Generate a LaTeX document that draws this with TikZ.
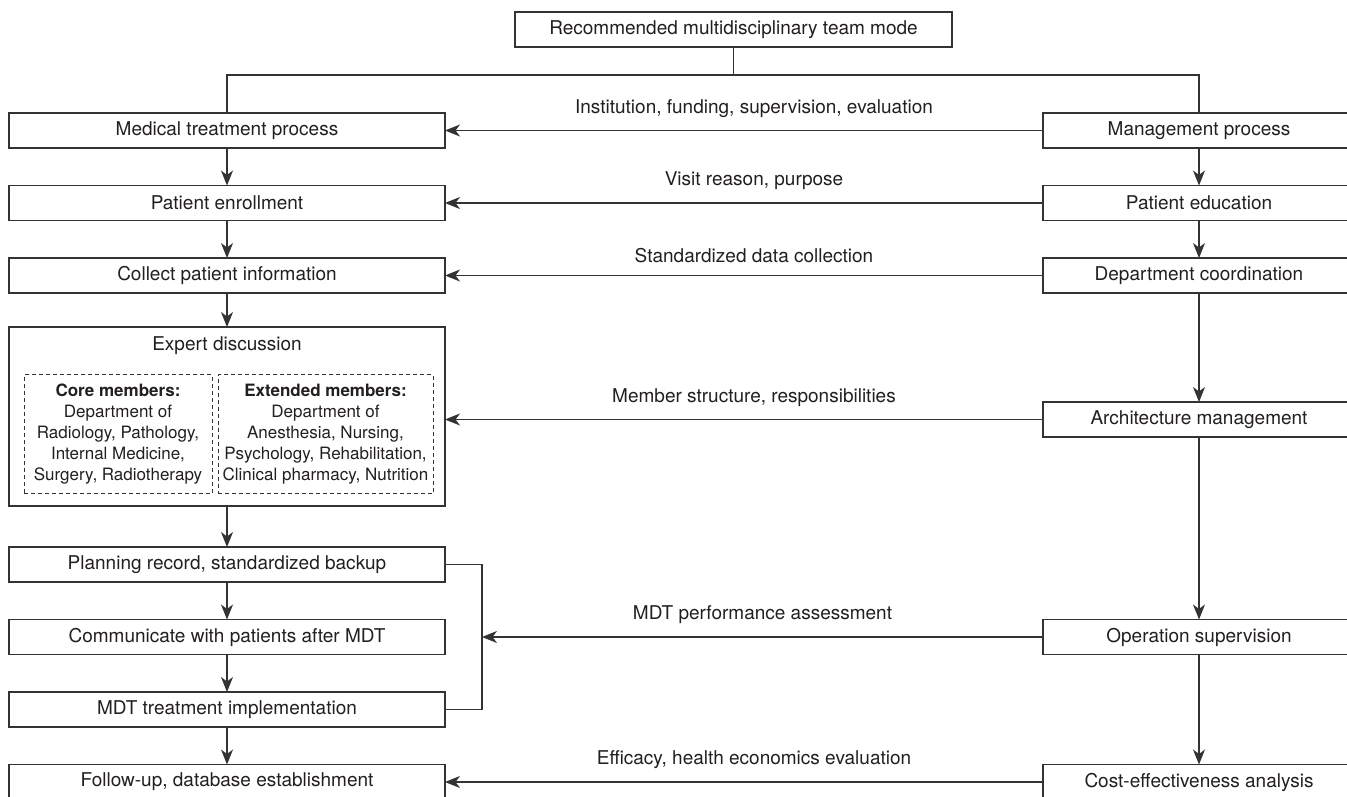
\documentclass[tikz,border=0pt]{standalone}
\usepackage{fontspec}
\setmainfont{TeX Gyre Heros}
\usepackage{xcolor}
\usepackage{tikz}
\usetikzlibrary{positioning,arrows.meta,calc}
\definecolor{LineGray}{HTML}{333333}
\definecolor{InkDark}{HTML}{231F20}
\newcommand{\boxfont}{\fontsize{19}{22}\selectfont}
\newcommand{\memberfont}{\fontsize{17}{21}\selectfont}

\begin{document}
\begin{tikzpicture}[x=1pt,y=1pt,
    stage/.style={draw=LineGray, line width=1.3pt, fill=white, outer sep=0pt,
                  minimum width=436pt, minimum height=35pt, inner sep=0pt,
                  text=InkDark, font=\boxfont},
    mgmtbox/.style={stage, minimum width=312pt},
    members/.style={draw=LineGray, line width=0.9pt, dash pattern=on 4pt off 3pt,
                    minimum height=119pt, inner sep=0pt, align=center,
                    text=InkDark, font=\memberfont},
    link/.style={draw=LineGray, line width=1.3pt},
    arr/.style={link, -{Stealth[length=15pt,width=12pt,inset=4.5pt]}},
    flowlabel/.style={midway, above=9pt, xshift=10pt, text=InkDark, font=\boxfont},
    node distance=37.5pt]
  \useasboundingbox (0,0) rectangle (1347,-797);

  % top of the tree
  \node[stage, minimum width=437pt] (mode) at (733.5,-29.5) {Recommended multidisciplinary team mode};
  \coordinate (split) at (733.5,-75);

  % medical treatment column
  \node[stage] (med) at (227,-130.5) {Medical treatment process};
  \node[stage, below=of med] (enrol) {Patient enrollment};
  \node[stage, below=of enrol] (collect) {Collect patient information};
  \node[stage, minimum height=179pt, below=34pt of collect] (expert) {};
  \node[text=InkDark, font=\boxfont] (experttitle) at (227,-346) {Expert discussion};
  \node[members, minimum width=188pt] (core) at (118,-434)
    {\textbf{Core members:}\\Department of\\Radiology, Pathology,\\Internal Medicine,\\Surgery, Radiotherapy};
  \node[members, minimum width=215pt] (extended) at (325.5,-434)
    {\textbf{Extended members:}\\Department of\\Anesthesia, Nursing,\\Psychology, Rehabilitation,\\Clinical pharmacy, Nutrition};
  \node[stage, below=41pt of expert] (plan) {Planning record, standardized backup};
  \node[stage, below=of plan] (comm) {Communicate with patients after MDT};
  \node[stage, below=of comm] (impl) {MDT treatment implementation};
  \node[stage, below=of impl] (follow) {Follow-up, database establishment};

  % management column
  \node[mgmtbox, right=598pt of med] (mgmt) {Management process};
  \node[mgmtbox, right=598pt of enrol] (educ) {Patient education};
  \node[mgmtbox, right=598pt of collect] (coord) {Department coordination};
  \node[mgmtbox] (arch) at ($(coord)+(0,-144)$) {Architecture management};
  \node[mgmtbox, right=598pt of comm] (oper) {Operation supervision};
  \node[mgmtbox, right=598pt of follow] (cost) {Cost-effectiveness analysis};

  % tree lines
  \draw[link] (mode) -- (split);
  \draw[link] (med.north) |- (split) -| (mgmt.north);

  % downward arrows
  \draw[arr] (med) -- (enrol);
  \draw[arr] (enrol) -- (collect);
  \draw[arr] (collect) -- (expert);
  \draw[arr] (expert) -- (plan);
  \draw[arr] (plan) -- (comm);
  \draw[arr] (comm) -- (impl);
  \draw[arr] (impl) -- (follow);
  \draw[arr] (mgmt) -- (educ);
  \draw[arr] (educ) -- (coord);
  \draw[arr] (coord) -- (arch);
  \draw[arr] (arch) -- (oper);
  \draw[arr] (oper) -- (cost);

  % bracket round the MDT steps
  \coordinate (bracket) at (482,-637);
  \draw[link] (plan.east) -| (bracket) |- (impl.east);

  % management feeds the medical steps
  \draw[arr] (mgmt) -- (med) node[flowlabel] {Institution, funding, supervision, evaluation};
  \draw[arr] (educ) -- (enrol) node[flowlabel] {Visit reason, purpose};
  \draw[arr] (coord) -- (collect) node[flowlabel] {Standardized data collection};
  \draw[arr] (arch) -- (arch -| expert.east) node[flowlabel] {Member structure, responsibilities};
  \draw[arr] (oper) -- (bracket) node[flowlabel, xshift=-10pt] {MDT performance assessment};
  \draw[arr] (cost) -- (follow) node[flowlabel] {Efficacy, health economics evaluation};
\end{tikzpicture}
\end{document}
